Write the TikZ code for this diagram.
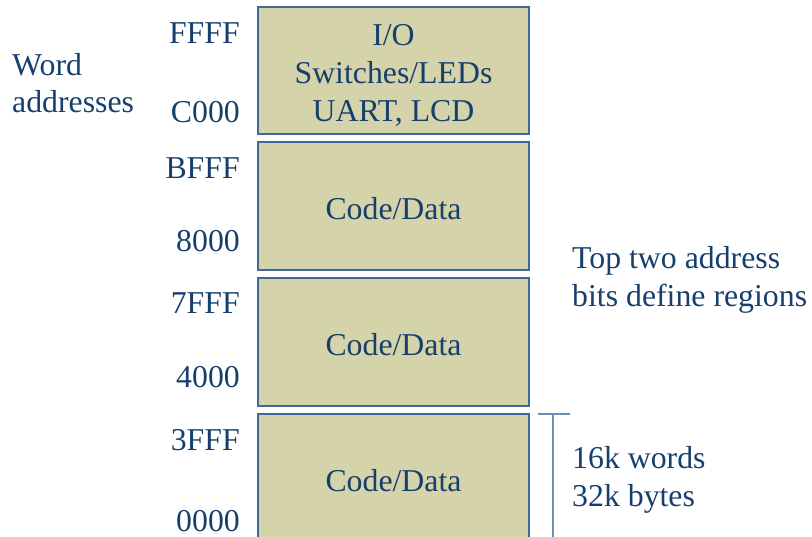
\documentclass[tikz,border=0pt]{standalone}
\usepackage{fontspec}
\setmainfont{Liberation Serif}
\definecolor{boxfill}{HTML}{D5D3A9}
\definecolor{boxline}{HTML}{3D6A9A}
\definecolor{txt}{HTML}{173F6E}
\definecolor{brk}{HTML}{6B90B8}
\begin{document}
\begin{tikzpicture}[x=1pt,y=-1pt,
  region/.style={draw=boxline,line width=1.5pt,fill=boxfill},
  lbl/.style={text=txt,font=\fontsize{31.8}{38}\selectfont,inner sep=0pt},
  addr/.style={lbl,anchor=base east},
  side/.style={lbl,anchor=base west}]
\useasboundingbox (0,0) rectangle (812,537);
\clip (0,0) rectangle (812,537);
\path[region] (258,7) rectangle (529,134);
\path[region] (258,142) rectangle (529,270);
\path[region] (258,278) rectangle (529,406);
\path[region] (258,414) rectangle (529,560);
\node[lbl,anchor=base] (io1) at (393.5,46) {I/O};
\node[lbl,anchor=base] (io2) at (393.5,84) {Switches/LEDs};
\node[lbl,anchor=base] (io3) at (393.5,122) {UART, LCD};
\node[lbl,anchor=base] (cd1) at (393.5,220) {Code/Data};
\node[lbl,anchor=base] (cd2) at (393.5,356) {Code/Data};
\node[lbl,anchor=base] (cd3) at (393.5,492) {Code/Data};
\node[addr] (a1) at (240,44) {FFFF};
\node[addr] (a2) at (240,123) {C000};
\node[addr] (a3) at (240,179) {BFFF};
\node[addr] (a4) at (240,252) {8000};
\node[addr] (a5) at (240,314) {7FFF};
\node[addr] (a6) at (240,388) {4000};
\node[addr] (a7) at (240,450) {3FFF};
\node[addr] (a8) at (240,531) {0000};
\node[side] (w1) at (12,76) {Word};
\node[side] (w2) at (12,113) {addresses};
\node[side] (t1) at (572,269) {Top two address};
\node[side] (t2) at (572,307) {bits define regions};
\node[side] (k1) at (572,468) {16k words};
\node[side] (k2) at (572,506) {32k bytes};
\coordinate (bl) at (538,414);
\coordinate (br) at (570,414);
\coordinate (bt) at (553,414);
\coordinate (bb) at (553,545);
\draw[brk,line width=1.2pt] (bl) -- (br);
\draw[brk,line width=1.2pt] (bt) -- (bb);
\end{tikzpicture}
\end{document}
